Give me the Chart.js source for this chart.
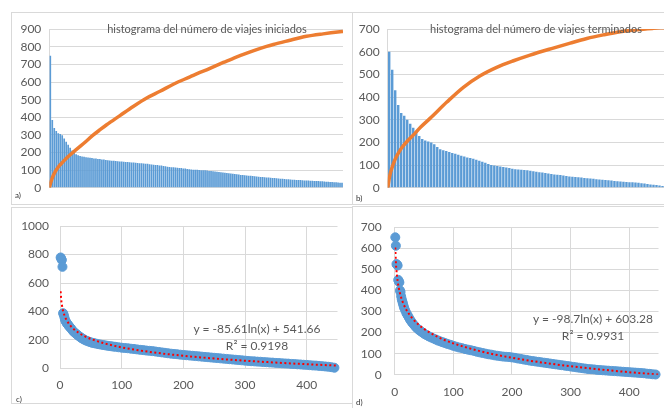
<!DOCTYPE html>
<html lang="es">
<head>
<meta charset="UTF-8" />
<title>Histogramas de viajes iniciados y terminados</title>
<script src="https://cdn.jsdelivr.net/npm/chart.js@4"></script>
<style>
  body { margin: 0; background: #fff; font-family: Lato, "Liberation Sans", sans-serif; }
  #hoja { position: relative; width: 664px; height: 408px; overflow: hidden; }
  .marco { position: absolute; border: 1px solid #d9d9d9; border-right: none; }
  canvas { position: absolute; }
  .titulo { position: absolute; font-size: 11px; color: #595959; white-space: nowrap; transform: translate(-50%, -50%); }
  .ecuacion { position: absolute; font-size: 12px; color: #595959; white-space: nowrap; transform: translate(-50%, -50%); }
  .letra { position: absolute; font-size: 8px; color: #333; transform: translateY(-50%); }
</style>
</head>
<body>
<div id="hoja">
  <div class="marco" style="left:11px;top:12px;width:340px;height:191px"></div>
  <div class="marco" style="left:352px;top:12px;width:320px;height:191px"></div>
  <div class="marco" style="left:11px;top:207px;width:340px;height:195px"></div>
  <div class="marco" style="left:352px;top:206px;width:320px;height:210px"></div>

  <canvas id="graficoA" width="331" height="190" style="left:12px;top:13px"></canvas>
  <canvas id="graficoB" width="311" height="190" style="left:353px;top:13px"></canvas>
  <canvas id="graficoC" width="331" height="195" style="left:12px;top:208px"></canvas>
  <canvas id="graficoD" width="311" height="200" style="left:353px;top:207px"></canvas>

  <div class="titulo" style="left:207px;top:28px">histograma del número de viajes iniciados</div>
  <div class="titulo" style="left:536px;top:28px">histograma del número de viajes terminados</div>

  <div class="ecuacion" style="left:257px;top:328px">y = -85.61ln(x) + 541.66</div>
  <div class="ecuacion" style="left:257px;top:345px">R² = 0.9198</div>
  <div class="ecuacion" style="left:593px;top:318px">y = -98.7ln(x) + 603.28</div>
  <div class="ecuacion" style="left:593px;top:335px">R² = 0.9931</div>

  <div class="letra" style="left:15px;top:195px">a)</div>
  <div class="letra" style="left:356px;top:198px">b)</div>
  <div class="letra" style="left:16px;top:399px">c)</div>
  <div class="letra" style="left:356px;top:402px">d)</div>
</div>

<script>
// viajes por estacion, ordenados de mayor a menor (histogramas)
const iniciados = [
  750, 385, 340, 322, 310, 305, 298, 280, 262, 245, 228, 212, 198, 190, 185, 181, 178, 176, 174, 172,
  170, 169, 167, 166, 164, 163, 161, 160, 158,
  156, 155, 154, 153, 152, 151, 150, 149, 148, 147, 146,
  145, 144, 143, 142, 141, 140, 139, 138, 137, 136,
  134, 133, 131, 130, 129, 127, 126, 124, 122, 120,
  118, 117, 116, 115, 114, 113, 112, 110, 109, 107, 106, 104,
  103, 103, 102, 101, 100, 100, 99, 98,
  96, 95, 94, 92, 91, 90, 88, 87, 85,
  84, 82, 81, 80, 78, 77, 75, 73,
  72, 71, 70, 69, 68, 67, 66, 64,
  63, 62, 61, 60, 59, 58, 57, 56, 55,
  54, 53, 52, 51, 50, 49, 48, 47,
  46, 46, 45, 45, 44, 43, 42, 42, 41,
  40, 40, 39, 39, 38, 37, 37, 36,
  35, 34, 33, 33, 32, 31, 30, 29, 28
];
const terminados = [
  600, 520, 430, 365, 330, 318, 300, 282, 265, 248, 228, 215, 208, 204, 200, 192, 180, 170, 166, 162,
  158, 153, 150, 146, 141, 138, 134, 131, 128, 124, 119, 115, 110, 105, 101, 98, 96, 94, 92, 90,
  87, 84, 82, 81, 80, 78, 77, 75, 73, 71, 69, 67, 65, 63, 61, 59, 57, 56, 54, 52,
  50, 49, 48, 46, 45, 43, 42, 41, 40, 38, 37, 36, 34, 33, 32, 30, 29, 28, 27, 26,
  25, 24, 23, 22, 20, 19, 17, 15, 13, 12, 10, 8
];

// curva naranja (acumulado), posicion en barras y valor
const acumIniX = [0, 1, 2, 3, 5, 7.1, 9, 12.1, 17.1, 22.2, 25.6, 28.9, 35.6, 42.3, 49.1, 55.8, 62.5,
  70.9, 75.9, 79.3, 87.7, 92.7, 96.1, 104.5, 109.5, 112.9, 121.3, 126.3, 129.6, 138, 146.4, 148];
const acumIniY = [0, 40, 70, 92, 125, 150, 172, 203, 250, 300, 330, 358, 410, 462, 510, 548, 588,
  630, 655, 670, 712, 735, 750, 785, 803, 814, 838, 852, 860, 874, 886, 888];
const acumTerX = [0, 0.5, 1, 2, 3, 4, 5, 6.5, 8.5, 11, 14.1, 19.7, 25.2, 30.8, 36.3, 41.9, 47.4, 55.1,
  60.8, 66.3, 71.8, 77.4, 83, 88.5, 92];
const acumTerY = [0, 40, 70, 110, 140, 163, 182, 205, 232, 268, 306, 378, 443, 494, 531, 560, 585, 616,
  638, 658, 674, 688, 697, 703, 706];

// dispersion: rango de la estacion y viajes
const rangoIni = [1, 2, 3, 4, 5, 6, 7, 8, 9, 10, 11, 12, 13, 14, 15, 16, 18, 20, 22, 24, 26, 28, 30, 32, 34,
  36, 38, 40, 43, 46, 49, 52, 55, 58, 62, 66, 70, 74, 78, 82, 86, 90, 95, 100, 105, 110, 115, 120, 125,
  130, 135, 140, 145, 150, 155, 160, 165, 170, 175, 180, 185, 190, 195, 200, 205, 210, 215, 220, 225,
  230, 235, 240, 245, 250, 255, 260, 265, 270, 275, 280, 285, 290, 295, 300, 305, 310, 315, 320, 325,
  330, 335, 340, 345, 350, 355, 360, 365, 370, 375, 380, 385, 390, 395, 400, 405, 410, 415, 420, 425,
  430, 435, 440, 445];
const viajesIni = [780, 772, 762, 714, 388, 378, 362, 345, 333, 325, 318, 312, 306, 300, 295, 290, 280, 268,
  258, 250, 243, 236, 229, 222, 216, 210, 205, 200, 194, 189, 184, 180, 177, 174, 170, 167, 164, 161,
  158, 156, 153, 151, 148, 145, 143, 141, 138, 136, 133, 130, 128, 125, 123, 121, 118, 115, 112, 109,
  106, 103, 101, 99, 96, 94, 92, 90, 88, 86, 84, 82, 80, 78, 76, 74, 72, 70, 68, 66, 64, 62, 60, 58,
  56, 54, 52, 50, 49, 47, 46, 44, 43, 41, 40, 38, 37, 35, 34, 33, 31, 30, 28, 27, 25, 24, 22, 20, 19,
  17, 15, 13, 11, 8, 4];
const rangoTer = [1, 2, 3, 4, 5, 6, 7, 8, 9, 10, 11, 12, 13, 14, 15, 16, 18, 20, 22, 24, 26, 28, 30, 33, 36,
  39, 42, 45, 48, 51, 54, 58, 62, 66, 70, 74, 78, 82, 86, 90, 95, 100, 105, 110, 115, 120, 125, 130,
  135, 140, 145, 150, 155, 160, 165, 170, 175, 180, 185, 190, 195, 200, 205, 210, 215, 220, 225, 230,
  235, 240, 245, 250, 255, 260, 265, 270, 275, 280, 285, 290, 295, 300, 305, 310, 315, 320, 325, 330,
  335, 340, 345, 350, 355, 360, 365, 370, 375, 380, 385, 390, 395, 400, 405, 410, 415, 420, 425, 430,
  435, 440, 445];
const viajesTer = [652, 612, 525, 522, 518, 450, 443, 438, 400, 392, 372, 358, 348, 338, 328, 318, 305, 292,
  282, 272, 262, 254, 246, 236, 226, 218, 211, 205, 199, 193, 188, 182, 177, 172, 167, 162, 158, 154,
  150, 146, 142, 137, 133, 129, 126, 122, 119, 116, 113, 109, 106, 103, 100, 97, 95, 92, 90, 88, 86,
  85, 84, 82, 80, 77, 75, 72, 70, 67, 65, 63, 61, 59, 57, 55, 53, 51, 49, 47, 45, 43, 41, 39, 37, 35,
  33, 31, 29, 27, 26, 25, 23, 22, 21, 20, 19, 18, 17, 16, 15, 14, 13, 12, 11, 10, 9, 8, 7, 5, 4, 2, 1];

// lineas de tendencia logaritmica (valores de la ecuacion mostrada)
const tendX = [1, 2, 3, 5, 7, 10, 15, 20, 30, 40, 50, 75, 100, 150, 200, 250, 300, 350, 400, 450];
const tendIni = [541.7, 482.3, 447.6, 403.9, 375.1, 344.5, 309.8, 285.2, 250.5, 225.8, 206.8, 172.0,
  147.4, 112.7, 88.1, 69.0, 53.4, 40.2, 28.7, 18.6];
const tendTer = [603.3, 534.9, 494.8, 444.4, 411.2, 376.0, 336.0, 307.6, 267.6, 239.2, 217.2, 177.2,
  148.8, 108.7, 80.4, 58.3, 40.3, 25.1, 11.9, 0.3];

const azul = '#5b9bd5';
const naranja = '#ed7d31';
const rejilla = '#d9d9d9';
const gris = '#595959';
const fuente = { family: 'Lato', size: 12 };

const pares = (xs, ys) => xs.map((x, i) => ({ x: x, y: ys[i] }));

function histograma(id, datos, acX, acY, maxY, anchoEje, arriba, abajo, porcentaje) {
  new Chart(document.getElementById(id), {
    type: 'bar',
    data: {
      labels: datos.map((_, i) => i + 1),
      datasets: [
        {
          type: 'line', data: pares(acX, acY), xAxisID: 'xl', order: 0,
          borderColor: naranja, borderWidth: 3.5, pointRadius: 0,
          cubicInterpolationMode: 'monotone'
        },
        {
          data: datos, order: 1, backgroundColor: azul, grouped: false,
          categoryPercentage: 1, barPercentage: porcentaje
        }
      ]
    },
    options: {
      responsive: false, animation: false, devicePixelRatio: 1,
      layout: { padding: { top: arriba, bottom: abajo, left: 0, right: 0 } },
      plugins: { legend: { display: false }, tooltip: { enabled: false } },
      scales: {
        x: { display: false },
        xl: { type: 'linear', display: false, offset: false, min: 0, max: datos.length },
        y: {
          min: 0, max: maxY,
          ticks: { stepSize: 100, color: gris, font: fuente, padding: 8 },
          grid: { color: rejilla, drawTicks: false },
          border: { color: rejilla },
          afterFit: s => { s.width = anchoEje; }
        }
      }
    }
  });
}

function dispersion(id, xs, ys, tend, maxY, paso, anchoEje, pad, arriba, altoX) {
  new Chart(document.getElementById(id), {
    type: 'scatter',
    data: {
      datasets: [
        {
          data: pares(tendX, tend), order: 0, showLine: true,
          borderColor: '#ff0000', borderWidth: 2, borderDash: [2, 2.5],
          pointRadius: 0, cubicInterpolationMode: 'monotone'
        },
        {
          data: pares(xs, ys), order: 1, clip: false,
          backgroundColor: azul, borderColor: azul, borderWidth: 1, pointRadius: 4.5
        }
      ]
    },
    options: {
      responsive: false, animation: false, devicePixelRatio: 1,
      layout: { padding: { top: arriba, bottom: 0, left: 0, right: 0 } },
      plugins: { legend: { display: false }, tooltip: { enabled: false } },
      scales: {
        x: {
          type: 'linear', min: 0, max: 450,
          ticks: { stepSize: 100, includeBounds: false, color: gris, font: fuente, padding: 10 },
          grid: { color: rejilla, drawTicks: false },
          border: { color: rejilla },
          afterFit: s => { s.height = altoX; }
        },
        y: {
          min: 0, max: maxY,
          ticks: { stepSize: paso, color: gris, font: fuente, padding: pad, callback: v => String(v) },
          grid: { color: rejilla, drawTicks: false },
          border: { color: rejilla },
          afterFit: s => { s.width = anchoEje; }
        }
      }
    }
  });
}

histograma('graficoA', iniciados, acumIniX, acumIniY, 900, 37.3, 16.3, 14, 0.85);
histograma('graficoB', terminados, acumTerX, acumTerY, 700, 34.7, 16, 12.3, 0.8);
dispersion('graficoC', rangoIni, viajesIni, tendIni, 1000, 200, 48, 11, 15.3, 34.7);
dispersion('graficoD', rangoTer, viajesTer, tendTer, 700, 100, 41.7, 13, 15.7, 32.3);
</script>
</body>
</html>
